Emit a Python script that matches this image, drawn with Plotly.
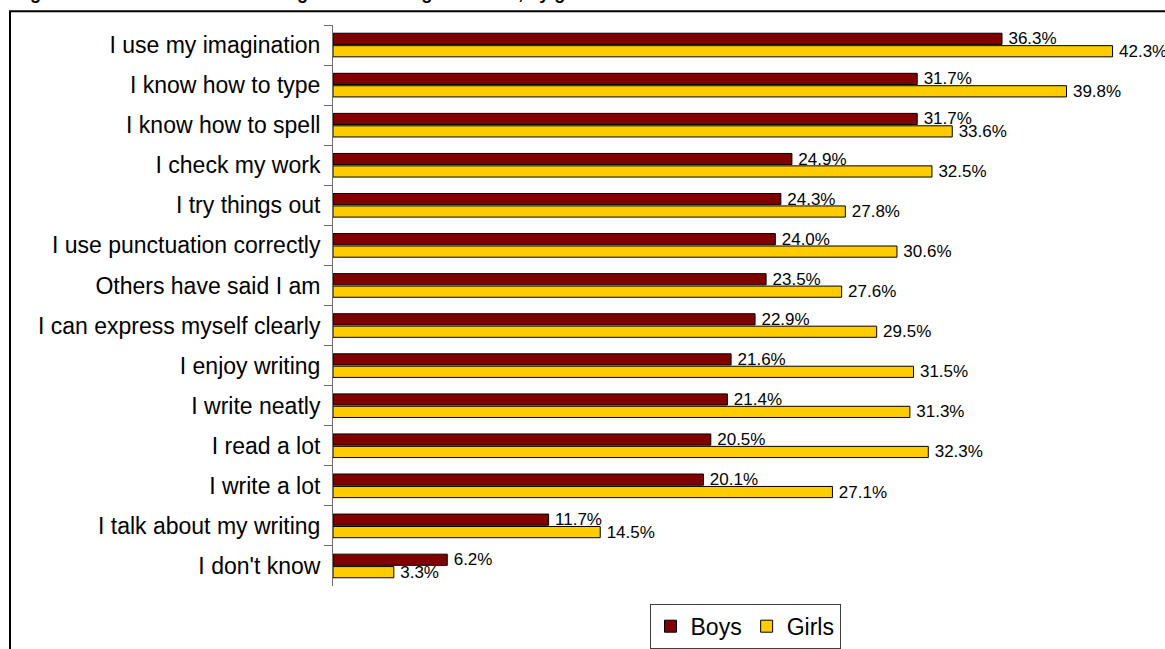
import plotly.graph_objects as go

categories = [
    "I use my imagination",
    "I know how to type",
    "I know how to spell",
    "I check my work",
    "I try things out",
    "I use punctuation correctly",
    "Others have said I am",
    "I can express myself clearly",
    "I enjoy writing",
    "I write neatly",
    "I read a lot",
    "I write a lot",
    "I talk about my writing",
    "I don't know",
]
boys = [36.3, 31.7, 31.7, 24.9, 24.3, 24.0, 23.5, 22.9, 21.6, 21.4, 20.5, 20.1, 11.7, 6.2]
girls = [42.3, 39.8, 33.6, 32.5, 27.8, 30.6, 27.6, 29.5, 31.5, 31.3, 32.3, 27.1, 14.5, 3.3]
series_names = ["Boys", "Girls"]
title_text = "Figure 9: Reasons cited for seeing oneself as a good writer, by gender"

FONT = "Liberation Sans, Arial, sans-serif"
W, H = 1165, 649
ML, MR, MT, MB = 333, 0, 25, 55
pw = W - ML - MR
ph = H - MT - MB

fig = go.Figure()
for name, vals, col in [(series_names[0], boys, "#800000"), (series_names[1], girls, "#FFCC00")]:
    fig.add_trace(go.Bar(
        y=categories, x=vals, name=name, orientation="h",
        marker=dict(color=col, line=dict(color="#000000", width=1)),
        text=[f"\u2009{v:.1f}%" for v in vals], textposition="outside",
        textfont=dict(family=FONT, size=17, color="#000000"),
        cliponaxis=False, constraintext="none",
    ))

px_per = 18.43
fig.update_layout(
    width=W, height=H,
    margin=dict(l=ML, r=MR, t=MT, b=MB, pad=0),
    paper_bgcolor="white", plot_bgcolor="white",
    barmode="group", bargap=0.38, bargroupgap=0.1,
    font=dict(family=FONT, color="#000000"),
    xaxis=dict(range=[0, pw / px_per], visible=False, showgrid=False, zeroline=False),
    yaxis=dict(
        autorange="reversed", type="category",
        showline=True, linecolor="#707070", linewidth=1,
        ticks="outside", ticklen=8, tickcolor="#707070", tickwidth=1,
        tickson="boundaries", ticklabelstandoff=7,
        tickfont=dict(family=FONT, size=23, color="#000000"),
        showgrid=False, zeroline=False,
    ),
    showlegend=True,
    legend=dict(
        orientation="h", x=(745 - ML) / pw, xanchor="center",
        y=-18 / ph, yanchor="top",
        bordercolor="#404040", borderwidth=1, bgcolor="white",
        font=dict(family=FONT, size=23, color="#000000"),
        traceorder="normal", itemwidth=30, tracegroupgap=0,
    ),
    shapes=[dict(
        type="rect", xref="paper", yref="paper",
        x0=(10 - ML) / pw, x1=1.2, y0=-0.3, y1=1 + (MT - 11) / ph,
        line=dict(color="#000000", width=2), fillcolor="rgba(0,0,0,0)", layer="above",
    )],
    annotations=[dict(
        text="<b>" + title_text + "</b>", xref="paper", yref="paper",
        x=(12 - ML) / pw, xanchor="left", y=1 + (MT - 5) / ph, yanchor="bottom",
        showarrow=False, font=dict(family=FONT, size=18, color="#000000"),
    )],
)

fig.write_html(
    "out.html",
    config={"displayModeBar": False},
    post_script="document.body.style.margin='0px';document.body.style.overflow='hidden';",
)
